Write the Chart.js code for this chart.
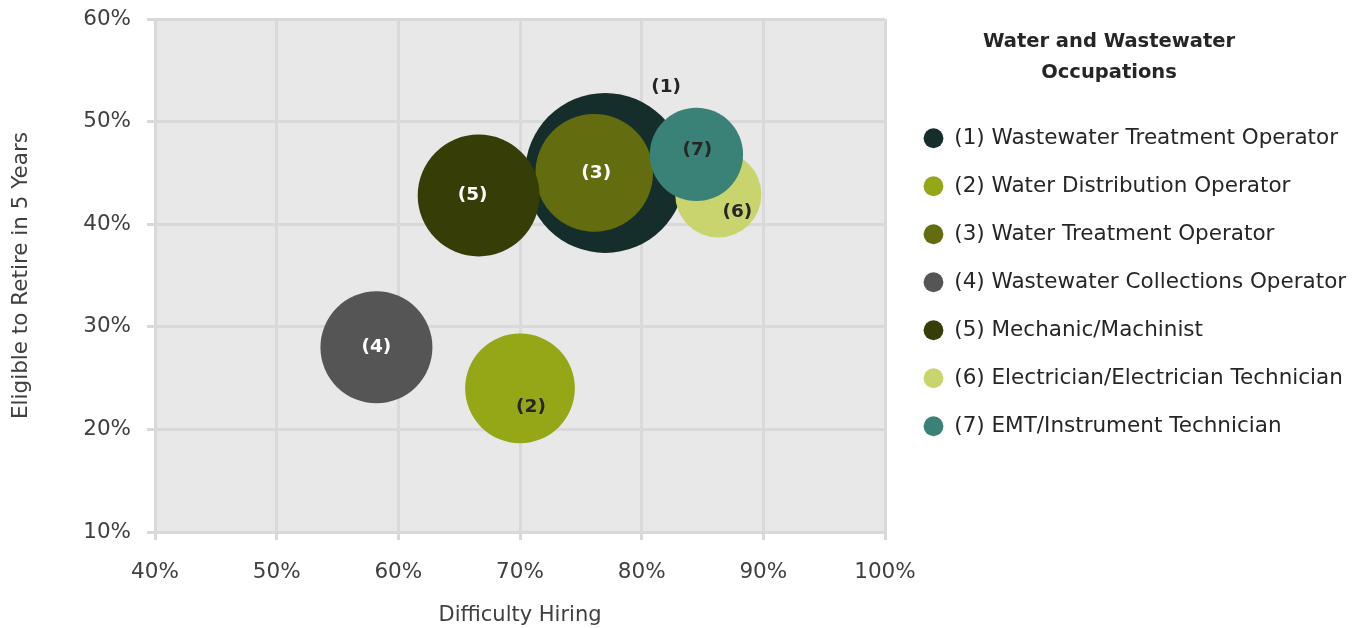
<!DOCTYPE html>
<html>
<head>
<meta charset="utf-8">
<title>Water and Wastewater Occupations</title>
<script src="https://cdn.jsdelivr.net/npm/chart.js@4.4.1/dist/chart.umd.min.js"></script>
<style>
  html, body { margin: 0; padding: 0; background: #ffffff; }
  #wrap { position: relative; width: 1353px; height: 628px; }
</style>
</head>
<body>
<div id="wrap"><canvas id="chart"></canvas></div>
<script>
// ─── Data ────────────────────────────────────────────────────
const occupations = [
  '(1) Wastewater Treatment Operator',
  '(2) Water Distribution Operator',
  '(3) Water Treatment Operator',
  '(4) Wastewater Collections Operator',
  '(5) Mechanic/Machinist',
  '(6) Electrician/Electrician Technician',
  '(7) EMT/Instrument Technician'
];
const bubbleTags = ['(1)', '(2)', '(3)', '(4)', '(5)', '(6)', '(7)'];
const difficultyHiring = [77, 70, 76.1, 58.2, 66.6, 86.3, 84.5];   // x, %
const eligibleRetire = [45, 24, 45, 28, 42.8, 42.9, 46.8];         // y, %
const bubbleSize = [100, 47, 54, 49, 58, 29, 34];                  // relative (area)
const xTicks = [40, 50, 60, 70, 80, 90, 100];
const yTicks = [10, 20, 30, 40, 50, 60];

// ─── Styles ──────────────────────────────────────────────────
const colors = ['#152e2c', '#95a616', '#636d10', '#555555', '#373d07', '#c9d46f', '#3a8278'];
const tagColors = ['#262626', '#262626', '#ffffff', '#ffffff', '#ffffff', '#262626', '#262626'];
const tagOffsets = [[61, -86], [11, 19], [2, 0], [0, 0], [-6, 0], [19, 18], [1, -4]];
const maxRadius = 80;
const FONT = "'DejaVu Sans', sans-serif";
const GRID = '#d9d9d9';
const TEXT = '#404040';

// ─── Plugins ─────────────────────────────────────────────────
const plotBackground = {
  id: 'plotBackground',
  beforeDraw(chart) {
    const { ctx, chartArea: a } = chart;
    ctx.save();
    ctx.fillStyle = '#e8e8e8';
    ctx.fillRect(a.left, a.top, a.right - a.left, a.bottom - a.top);
    ctx.restore();
  }
};

// legend keeps 468px next to the plot, items start 12px in,
// title is centred over the first 424px
const legendBox = {
  id: 'legendBox',
  beforeInit(chart) {
    const fit = chart.legend.fit;
    chart.legend.fit = function () {
      fit.call(this);
      this.width = 468;
    };
  },
  afterLayout(chart) {
    const lg = chart.legend;
    lg.left += 12;
    lg.width = 424;
    lg.right = chart.width;
  }
};

const bubbleTagsPlugin = {
  id: 'bubbleTags',
  afterDatasetsDraw(chart) {
    const ctx = chart.ctx;
    ctx.save();
    ctx.font = `bold 18.5px ${FONT}`;
    ctx.textAlign = 'center';
    ctx.textBaseline = 'middle';
    chart.data.datasets.forEach((ds, i) => {
      const pt = chart.getDatasetMeta(i).data[0];
      if (!pt) return;
      ctx.fillStyle = tagColors[i];
      ctx.fillText(bubbleTags[i], pt.x + tagOffsets[i][0], pt.y + tagOffsets[i][1]);
    });
    ctx.restore();
  }
};

// ─── Chart ───────────────────────────────────────────────────
const datasets = occupations.map((name, i) => ({
  label: name,
  data: [{ x: difficultyHiring[i], y: eligibleRetire[i], r: maxRadius * Math.sqrt(bubbleSize[i] / 100) }],
  backgroundColor: colors[i],
  borderWidth: 0,
  hoverBorderWidth: 0,
  order: occupations.length - i
}));

new Chart(document.getElementById('chart'), {
  type: 'bubble',
  data: { datasets },
  plugins: [plotBackground, legendBox, bubbleTagsPlugin],
  options: {
    responsive: true,
    maintainAspectRatio: false,
    animation: false,
    events: [],
    layout: { autoPadding: false, padding: { top: 19, left: 0, right: 0, bottom: 0 } },
    plugins: {
      tooltip: { enabled: false },
      legend: {
        position: 'right',
        align: 'start',
        title: {
          display: true,
          text: ['Water and Wastewater', 'Occupations'],
          color: '#262626',
          font: { family: FONT, size: 19.5, weight: 'bold', lineHeight: 31 / 19.5 },
          padding: { top: 13, bottom: 38 }
        },
        labels: {
          usePointStyle: true,
          pointStyle: 'circle',
          boxWidth: 20,
          boxHeight: 14,
          padding: 26.5,
          color: '#262626',
          font: { family: FONT, size: 21.5 },
          sort: (a, b) => a.datasetIndex - b.datasetIndex
        }
      }
    },
    scales: {
      x: {
        type: 'linear',
        min: xTicks[0],
        max: xTicks[xTicks.length - 1],
        afterBuildTicks: s => { s.ticks = xTicks.map(v => ({ value: v })); },
        afterFit: s => { s.height = 96; s.paddingLeft = 0; s.paddingRight = 0; },
        grid: { color: GRID, lineWidth: 3, tickLength: 8, tickColor: GRID },
        border: { display: true, color: GRID, width: 3 },
        ticks: { color: TEXT, font: { family: FONT, size: 21.5 }, padding: 20, callback: v => v + '%' },
        title: {
          display: true,
          text: 'Difficulty Hiring',
          color: TEXT,
          font: { family: FONT, size: 21 },
          padding: { top: 0, bottom: 0 }
        }
      },
      y: {
        type: 'linear',
        min: yTicks[0],
        max: yTicks[yTicks.length - 1],
        afterBuildTicks: s => { s.ticks = yTicks.map(v => ({ value: v })); },
        afterFit: s => { s.width = 155; s.paddingTop = 0; s.paddingBottom = 0; },
        grid: { color: GRID, lineWidth: 3, tickLength: 8, tickColor: GRID },
        border: { display: true, color: GRID, width: 3 },
        ticks: { color: TEXT, font: { family: FONT, size: 21.5 }, padding: 16, callback: v => v + '%' },
        title: {
          display: true,
          text: 'Eligible to Retire in 5 Years',
          color: TEXT,
          font: { family: FONT, size: 21.5 },
          padding: { top: 9, bottom: 0 }
        }
      }
    }
  }
});
</script>
</body>
</html>
